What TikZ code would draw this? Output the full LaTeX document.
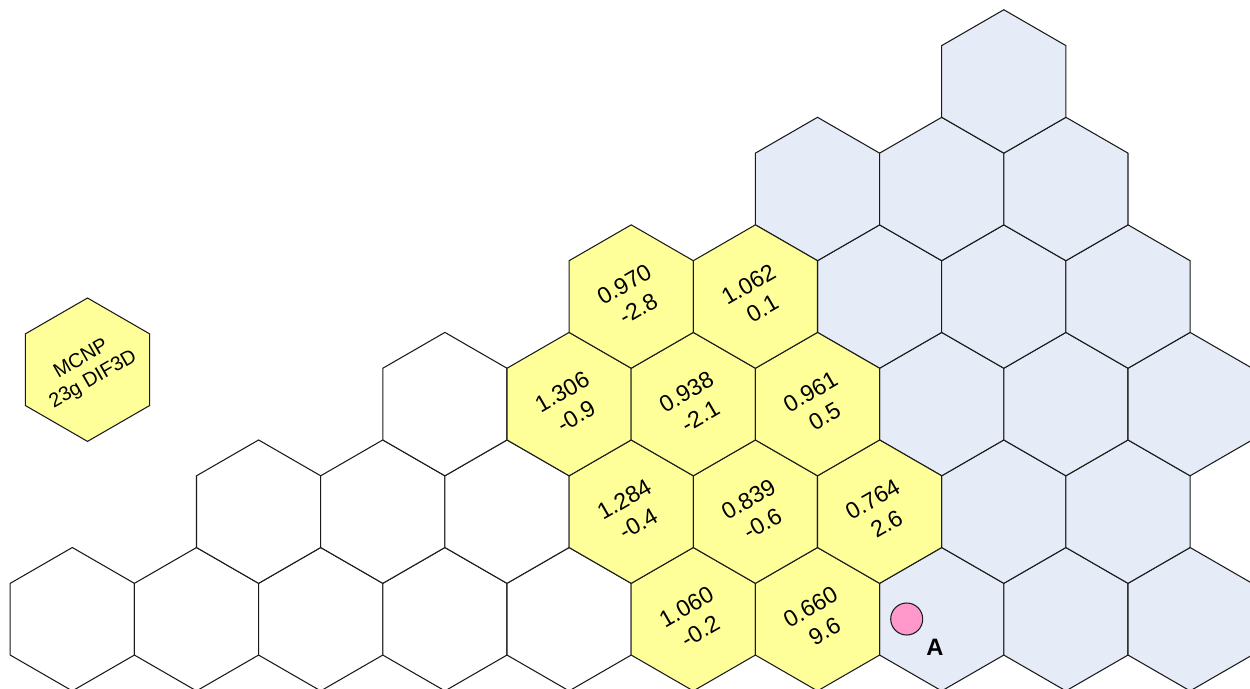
\documentclass[tikz,border=0pt]{standalone}
\usepackage{fontspec}
\setmainfont{Liberation Sans}
\usepackage{xcolor}
\usepackage{tikz}
\usetikzlibrary{shapes.geometric,positioning}
\definecolor{COREyellow}{HTML}{FFFF99}
\definecolor{COREblue}{HTML}{E6ECF7}
\definecolor{COREpink}{HTML}{FF99CC}
\definecolor{CORElines}{HTML}{1A1A1A}
\tikzset{
  hexcell/.style={regular polygon, regular polygon sides=6, minimum size=2.868cm,
    inner sep=0pt, rotate=30, draw=CORElines, line width=0.6pt},
  emptycell/.style={hexcell, fill=white},
  outercell/.style={hexcell, fill=COREblue},
  fuelcell/.style={hexcell, fill=COREyellow, align=center,
    font=\fontsize{13.2}{15.9}\selectfont},
}
\begin{document}
\begin{tikzpicture}
      \useasboundingbox (0,0) rectangle (25,13.76);
      % empty cells
      \foreach \c in {0,...,4}
        \node[emptycell] (r0c\c) at ({1.446+2.484*\c},1.376) {};
      \foreach \c in {1,2,3}
        \node[emptycell] (r1c\c) at ({2.688+2.484*\c},3.527) {};
      \node[emptycell] (r2c3) at ({1.446+2.484*3},5.678) {};
      % outer cells
      \foreach \c in {7,8,9}
        \node[outercell] (r0c\c) at ({1.446+2.484*\c},1.376) {};
      \foreach \c in {7,8}
        \node[outercell] (r1c\c) at ({2.688+2.484*\c},3.527) {};
      \foreach \c in {7,8,9}
        \node[outercell] (r2c\c) at ({1.446+2.484*\c},5.678) {};
      \foreach \c in {6,7,8}
        \node[outercell] (r3c\c) at ({2.688+2.484*\c},7.829) {};
      \foreach \c in {6,7,8}
        \node[outercell] (r4c\c) at ({1.446+2.484*\c},9.980) {};
      \node[outercell] (r5c7) at ({2.688+2.484*7},12.131) {};
      % fuel cells
      \node[fuelcell] (r0c5) at ({1.446+2.484*5},1.376) {1.060\\-0.2};
      \node[fuelcell] (r0c6) at ({1.446+2.484*6},1.376) {0.660\\9.6};
      \node[fuelcell] (r1c4) at ({2.688+2.484*4},3.527) {1.284\\-0.4};
      \node[fuelcell] (r1c5) at ({2.688+2.484*5},3.527) {0.839\\-0.6};
      \node[fuelcell] (r1c6) at ({2.688+2.484*6},3.527) {0.764\\2.6};
      \node[fuelcell] (r2c4) at ({1.446+2.484*4},5.678) {1.306\\-0.9};
      \node[fuelcell] (r2c5) at ({1.446+2.484*5},5.678) {0.938\\-2.1};
      \node[fuelcell] (r2c6) at ({1.446+2.484*6},5.678) {0.961\\0.5};
      \node[fuelcell] (r3c4) at ({2.688+2.484*4},7.829) {0.970\\-2.8};
      \node[fuelcell] (r3c5) at ({2.688+2.484*5},7.829) {1.062\\0.1};
      % legend
      \node[fuelcell, inner sep=-12pt, font=\fontsize{11.4}{13.5}\selectfont]
        (legend) at (1.75,6.366) {MCNP\\23g DIF3D};
      % marker A
      \node[circle, draw=CORElines, fill=COREpink, line width=0.6pt,
        minimum size=0.64cm, inner sep=0pt] (pinA) at (18.134,1.38) {};
      \node[font=\fontsize{13.5}{15}\selectfont\bfseries] (lblA) at (18.70,0.82) {A};
    \end{tikzpicture}
\end{document}
